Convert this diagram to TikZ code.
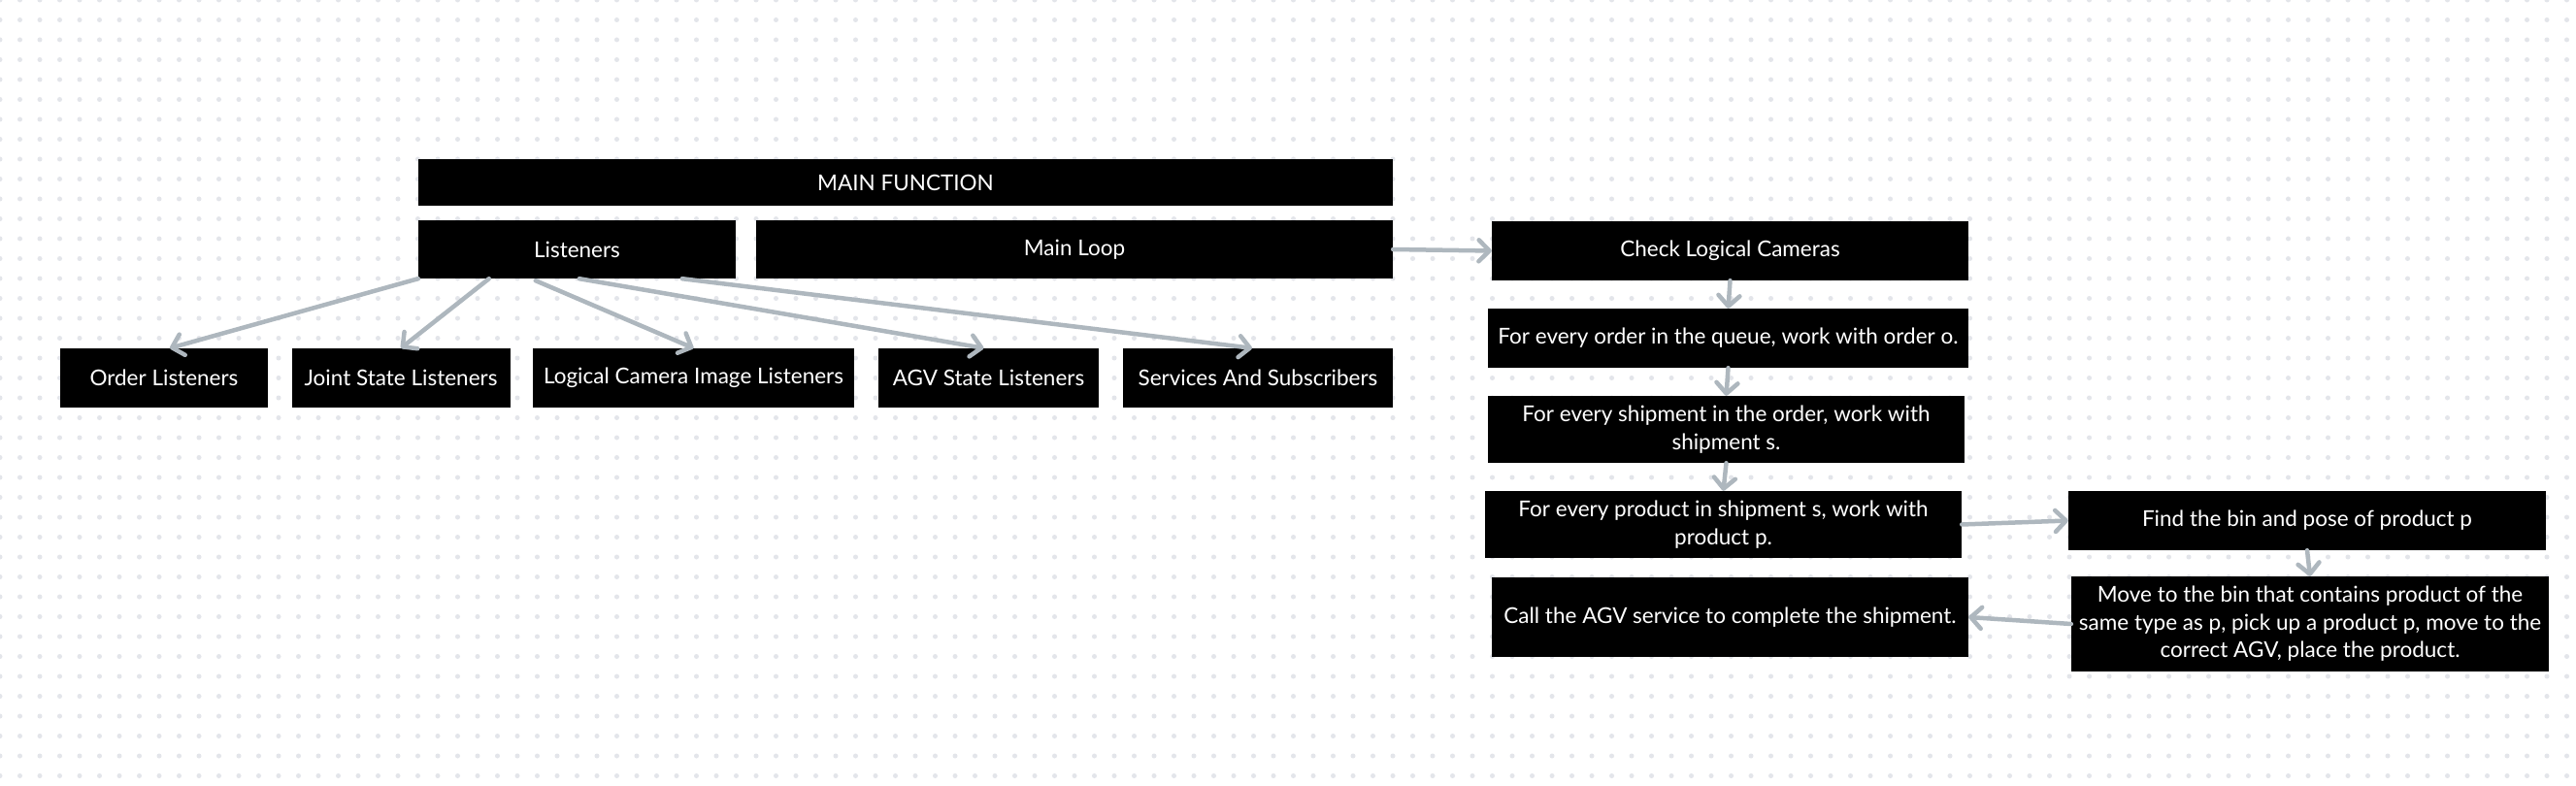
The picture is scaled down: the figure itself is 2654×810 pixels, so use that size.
\documentclass[tikz,border=0pt]{standalone}
\usepackage{fontspec}
\setmainfont{Lato}
\usetikzlibrary{arrows.meta,calc}
\definecolor{dotc}{HTML}{E3E5EA}
\definecolor{arrc}{HTML}{AEB7BE}
\tikzset{
  box/.style={fill=black, draw=none, text=white, inner sep=0pt, align=center,
    font=\fontsize{22.5}{28.5}\selectfont},
  conn/.style={draw=arrc, line width=4.5pt, line cap=round,
    -{Straight Barb[length=11pt, width=22pt, round]}},
}
\begin{document}
\begin{tikzpicture}[x=1pt, y=-1pt]
\useasboundingbox (0,0) rectangle (2654,810);
\fill[white] (0,0) rectangle (2654,810);
\foreach \i in {0,...,129}{
  \foreach \j in {0,...,39}{
    \fill[dotc] (\i*20.5, \j*20.5) circle (2.5);
  }
}
% main function
\node[box, minimum width=1004pt, minimum height=48pt] (mf) at (933,188) {MAIN FUNCTION};
\node[box, minimum width=327pt, minimum height=60pt] (lis) at (594.5,257) {Listeners};
\node[box, minimum width=656pt, minimum height=60pt] (ml) at (1107,257) {Main Loop};
% listeners
\node[box, minimum width=214pt, minimum height=61pt] (ol) at (169,389.5) {Order Listeners};
\node[box, minimum width=225pt, minimum height=61pt] (js) at (413,389.5) {Joint State Listeners};
\node[box, minimum width=331pt, minimum height=61pt] (lc) at (714.5,389.5) {Logical Camera Image Listeners};
\node[box, minimum width=227pt, minimum height=61pt] (agv) at (1018.5,389.5) {AGV State Listeners};
\node[box, minimum width=278pt, minimum height=61pt] (ss) at (1296,389.5) {Services And Subscribers};
% main loop steps
\node[box, minimum width=491pt, minimum height=61pt] (chk) at (1782.5,258.5) {Check Logical Cameras};
\node[box, minimum width=495pt, minimum height=61pt] (ord) at (1780.5,348.5) {For every order in the queue, work with order o.};
\node[box, minimum width=491pt, minimum height=69pt] (shp) at (1778.5,442.5) {For every shipment in the order, work with\\shipment s.};
\node[box, minimum width=491pt, minimum height=69pt] (prd) at (1775.5,540.5) {For every product in shipment s, work with\\product p.};
\node[box, minimum width=492pt, minimum height=61pt] (fnd) at (2377,536.5) {Find the bin and pose of product p};
\node[box, minimum width=492pt, minimum height=98pt] (mov) at (2380,643) {Move to the bin that contains product of the\\same type as p, pick up a product p, move to the\\correct AGV, place the product.};
\node[box, minimum width=491pt, minimum height=82pt] (call) at (1782.5,636) {Call the AGV service to complete the shipment.};
% connectors
\draw[conn] (lis.south west) -- ($(ol.north)+(6,0)$);
\draw[conn] ($(lis.south west)+(73,0)$) -- (js.north);
\draw[conn] ($(lis.south west)+(121,2)$) -- (lc.north);
\draw[conn] ($(lis.south west)+(166,0)$) -- ($(agv.north)+(-5,0)$);
\draw[conn] ($(lis.south west)+(272,0)$) -- ($(ss.north)+(-6,0)$);
\draw[conn] (ml.east) -- (chk.west);
\draw[conn] (chk.south) -- (ord.north);
\draw[conn] (ord.south) -- (shp.north);
\draw[conn] (shp.south) -- (prd.north);
\draw[conn] (prd.east) -- (fnd.west);
\draw[conn] (fnd.south) -- (mov.north);
\draw[conn] (mov.west) -- (call.east);
\end{tikzpicture}
\end{document}
